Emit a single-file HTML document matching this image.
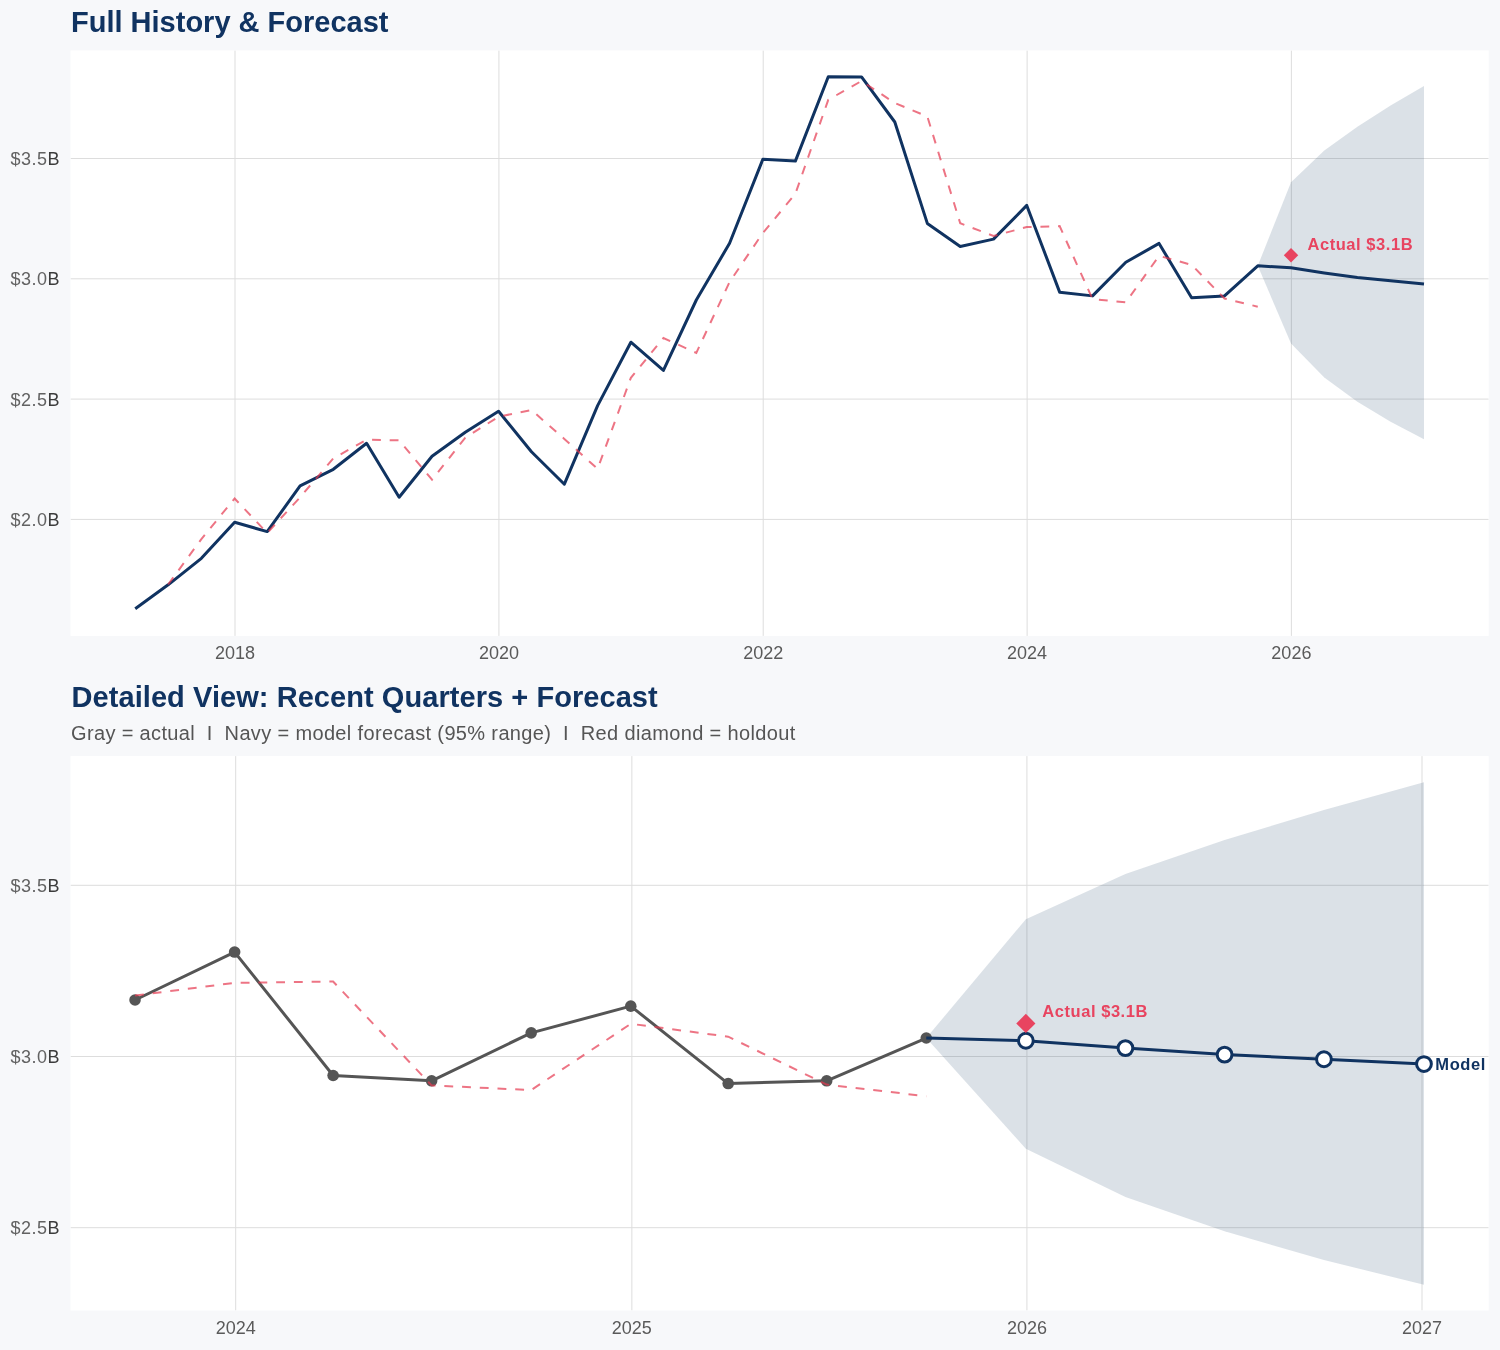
<!DOCTYPE html>
<html><head><meta charset="utf-8"><title>Forecast</title>
<style>
html,body{margin:0;padding:0;background:#f7f8fa;}
body{width:1500px;height:1350px;overflow:hidden;position:relative;font-family:"Liberation Sans",sans-serif;}
svg{position:absolute;left:0;top:0;will-change:transform;}
.t{font-family:"Liberation Sans",sans-serif;}
</style></head><body>
<svg width="1500" height="1350" viewBox="0 0 1500 1350">
<rect x="0" y="0" width="1500" height="1350" fill="#f7f8fa"/>

<text class="t" x="71" y="31.7" font-size="29" font-weight="bold" fill="#103361">Full History &amp; Forecast</text>
<rect x="70.5" y="50.4" width="1418.2" height="585.5" fill="#fff"/>
<clipPath id="c1"><rect x="70.5" y="50.4" width="1418.2" height="585.5"/></clipPath>
<g clip-path="url(#c1)">
<line x1="70.5" x2="1488.7" y1="519.4" y2="519.4" stroke="#dddddd" stroke-width="1"/>
<line x1="70.5" x2="1488.7" y1="399.1" y2="399.1" stroke="#dddddd" stroke-width="1"/>
<line x1="70.5" x2="1488.7" y1="278.8" y2="278.8" stroke="#dddddd" stroke-width="1"/>
<line x1="70.5" x2="1488.7" y1="158.5" y2="158.5" stroke="#dddddd" stroke-width="1"/>
<line x1="235" x2="235" y1="50.4" y2="635.9" stroke="#dddddd" stroke-width="1"/>
<line x1="498.92" x2="498.92" y1="50.4" y2="635.9" stroke="#dddddd" stroke-width="1"/>
<line x1="763.2" x2="763.2" y1="50.4" y2="635.9" stroke="#dddddd" stroke-width="1"/>
<line x1="1027.11" x2="1027.11" y1="50.4" y2="635.9" stroke="#dddddd" stroke-width="1"/>
<line x1="1291.39" x2="1291.39" y1="50.4" y2="635.9" stroke="#dddddd" stroke-width="1"/>
<polygon points="1257.77,265.81 1291.03,182.32 1324.29,150.56 1357.41,126.74 1390.59,105.57 1424,86.08 1424,439.14 1390.59,421.84 1357.41,401.63 1324.29,377.45 1291.03,343.62" fill="#103361" fill-opacity="0.15"/>
<polyline points="135.22,608.8 168.12,584.8 201.38,558.3 234.64,522.3 267.18,531.6 300.08,485.9 333.34,469.3 366.6,443.3 399.13,497.2 432.03,456.3 465.29,432.3 498.56,411.3 531.45,451.7 564.35,484.2 597.61,405.6 630.88,342.2 663.41,370.4 696.31,300 729.57,243.3 762.83,159.3 795.37,161.1 828.27,76.8 861.53,76.9 894.79,122 927.33,223.4 960.23,246.5 993.49,239.1 1026.75,205.42 1059.65,292.15 1092.55,295.88 1125.81,262.2 1159.07,243.43 1191.61,297.81 1224.51,295.88 1257.77,265.81 1291.03,267.73 1324.29,272.91 1357.41,277.48 1390.59,280.72 1424,284.09" fill="none" stroke="#103361" stroke-width="3" stroke-linejoin="round"/>
<polyline points="168.12,584.5 201.38,539.1 234.64,498.5 267.18,533 300.08,497.3 333.34,458.4 366.6,439.7 399.13,440.3 432.03,479.7 465.29,437.7 498.56,416.7 531.45,410 564.35,438.9 597.61,468.9 630.88,377.8 663.41,338 696.31,352.9 729.57,282 762.83,233 795.37,193.8 828.27,99.8 861.53,81 894.79,103 927.33,116.5 960.23,223.3 993.49,235.97 1026.75,227.07 1059.65,226.11 1092.55,299.13 1125.81,302.38 1159.07,255.82 1191.61,264.85 1224.51,298.53 1257.77,306.71" fill="none" stroke="#e63950" stroke-opacity="0.7" stroke-width="2" stroke-dasharray="8.81,8.81"/>
<polygon points="1291.03,248.02 1298.23,255.22 1291.03,262.42 1283.83,255.22" fill="#e84460"/>
</g>
<text class="t" x="1307.5" y="249.9" font-size="16.5" letter-spacing="0.55" font-weight="bold" fill="#e84460">Actual $3.1B</text>
<text class="t" x="59.9" y="525.9" text-anchor="end" font-size="18" letter-spacing="0.45" fill="#626262">$2.0<tspan fill="#3c3c3c">B</tspan></text>
<text class="t" x="59.9" y="405.6" text-anchor="end" font-size="18" letter-spacing="0.45" fill="#626262">$2.5<tspan fill="#3c3c3c">B</tspan></text>
<text class="t" x="59.9" y="285.3" text-anchor="end" font-size="18" letter-spacing="0.45" fill="#626262">$3.0<tspan fill="#3c3c3c">B</tspan></text>
<text class="t" x="59.9" y="165" text-anchor="end" font-size="18" letter-spacing="0.45" fill="#626262">$3.5<tspan fill="#3c3c3c">B</tspan></text>
<text class="t" x="235" y="659.2" text-anchor="middle" font-size="18" fill="#5a5a5a">2018</text>
<text class="t" x="498.92" y="659.2" text-anchor="middle" font-size="18" fill="#5a5a5a">2020</text>
<text class="t" x="763.2" y="659.2" text-anchor="middle" font-size="18" fill="#5a5a5a">2022</text>
<text class="t" x="1027.11" y="659.2" text-anchor="middle" font-size="18" fill="#5a5a5a">2024</text>
<text class="t" x="1291.39" y="659.2" text-anchor="middle" font-size="18" fill="#5a5a5a">2026</text>
<text class="t" x="71.6" y="707.1" font-size="29" letter-spacing="0.06" font-weight="bold" fill="#103361">Detailed View: Recent Quarters + Forecast</text>
<text class="t" x="71" y="739.9" font-size="20" letter-spacing="0.35" fill="#555" xml:space="preserve">Gray = actual  I  Navy = model forecast (95% range)  I  Red diamond = holdout</text>
<rect x="70.5" y="756.1" width="1418.2" height="554.4" fill="#fff"/>
<clipPath id="c2"><rect x="70.5" y="756.1" width="1418.2" height="554.4"/></clipPath>
<g clip-path="url(#c2)">
<line x1="70.5" x2="1488.7" y1="1227.7" y2="1227.7" stroke="#dddddd" stroke-width="1"/>
<line x1="70.5" x2="1488.7" y1="1056.5" y2="1056.5" stroke="#dddddd" stroke-width="1"/>
<line x1="70.5" x2="1488.7" y1="885.3" y2="885.3" stroke="#dddddd" stroke-width="1"/>
<line x1="235.7" x2="235.7" y1="756.1" y2="1310.5" stroke="#dddddd" stroke-width="1"/>
<line x1="631.86" x2="631.86" y1="756.1" y2="1310.5" stroke="#dddddd" stroke-width="1"/>
<line x1="1026.93" x2="1026.93" y1="756.1" y2="1310.5" stroke="#dddddd" stroke-width="1"/>
<line x1="1422.01" x2="1422.01" y1="756.1" y2="1310.5" stroke="#dddddd" stroke-width="1"/>
<polygon points="926.27,1038.01 1025.85,919.2 1125.43,874 1224.58,840.1 1323.94,809.97 1423.96,782.24 1423.96,1284.68 1323.94,1260.06 1224.58,1231.3 1125.43,1196.88 1025.85,1148.74" fill="#103361" fill-opacity="0.15"/>
<polyline points="135.04,1000 234.62,952.07 333.12,1075.5 431.61,1080.81 531.2,1032.87 630.78,1006.17 728.19,1083.55 826.69,1080.81 926.27,1038.01" fill="none" stroke="#555555" stroke-width="3" stroke-linejoin="round"/>
<circle cx="135.04" cy="1000" r="5.8" fill="#555555"/>
<circle cx="234.62" cy="952.07" r="5.8" fill="#555555"/>
<circle cx="333.12" cy="1075.5" r="5.8" fill="#555555"/>
<circle cx="431.61" cy="1080.81" r="5.8" fill="#555555"/>
<circle cx="531.2" cy="1032.87" r="5.8" fill="#555555"/>
<circle cx="630.78" cy="1006.17" r="5.8" fill="#555555"/>
<circle cx="728.19" cy="1083.55" r="5.8" fill="#555555"/>
<circle cx="826.69" cy="1080.81" r="5.8" fill="#555555"/>
<circle cx="926.27" cy="1038.01" r="5.8" fill="#555555"/>
<polyline points="135.04,995.55 234.62,982.88 333.12,981.51 431.61,1085.43 531.2,1090.06 630.78,1023.8 728.19,1036.64 826.69,1084.58 926.27,1096.22" fill="none" stroke="#e63950" stroke-opacity="0.7" stroke-width="2" stroke-dasharray="8.87,8.87"/>
<polyline points="926.27,1038.01 1025.85,1040.75 1125.43,1048.11 1224.58,1054.62 1323.94,1059.24 1423.96,1064.03" fill="none" stroke="#103361" stroke-width="3" stroke-linejoin="round"/>
<circle cx="1025.85" cy="1040.75" r="7.4" fill="#fff" stroke="#103361" stroke-width="3"/>
<circle cx="1125.43" cy="1048.11" r="7.4" fill="#fff" stroke="#103361" stroke-width="3"/>
<circle cx="1224.58" cy="1054.62" r="7.4" fill="#fff" stroke="#103361" stroke-width="3"/>
<circle cx="1323.94" cy="1059.24" r="7.4" fill="#fff" stroke="#103361" stroke-width="3"/>
<circle cx="1423.96" cy="1064.03" r="7.4" fill="#fff" stroke="#103361" stroke-width="3"/>
<polygon points="1025.85,1013.84 1035.45,1023.44 1025.85,1033.04 1016.25,1023.44" fill="#e84460"/>
</g>
<text class="t" x="1042.3" y="1016.7" font-size="16.5" letter-spacing="0.55" font-weight="bold" fill="#e84460">Actual $3.1B</text>
<text class="t" x="1435.3" y="1070" font-size="16.5" letter-spacing="0.6" font-weight="bold" fill="#103361">Model</text>
<text class="t" x="59.9" y="1234.2" text-anchor="end" font-size="18" letter-spacing="0.45" fill="#626262">$2.5<tspan fill="#3c3c3c">B</tspan></text>
<text class="t" x="59.9" y="1063" text-anchor="end" font-size="18" letter-spacing="0.45" fill="#626262">$3.0<tspan fill="#3c3c3c">B</tspan></text>
<text class="t" x="59.9" y="891.8" text-anchor="end" font-size="18" letter-spacing="0.45" fill="#626262">$3.5<tspan fill="#3c3c3c">B</tspan></text>
<text class="t" x="235.7" y="1334.2" text-anchor="middle" font-size="18" fill="#5a5a5a">2024</text>
<text class="t" x="631.86" y="1334.2" text-anchor="middle" font-size="18" fill="#5a5a5a">2025</text>
<text class="t" x="1026.93" y="1334.2" text-anchor="middle" font-size="18" fill="#5a5a5a">2026</text>
<text class="t" x="1422.01" y="1334.2" text-anchor="middle" font-size="18" fill="#5a5a5a">2027</text>
</svg>
</body></html>
